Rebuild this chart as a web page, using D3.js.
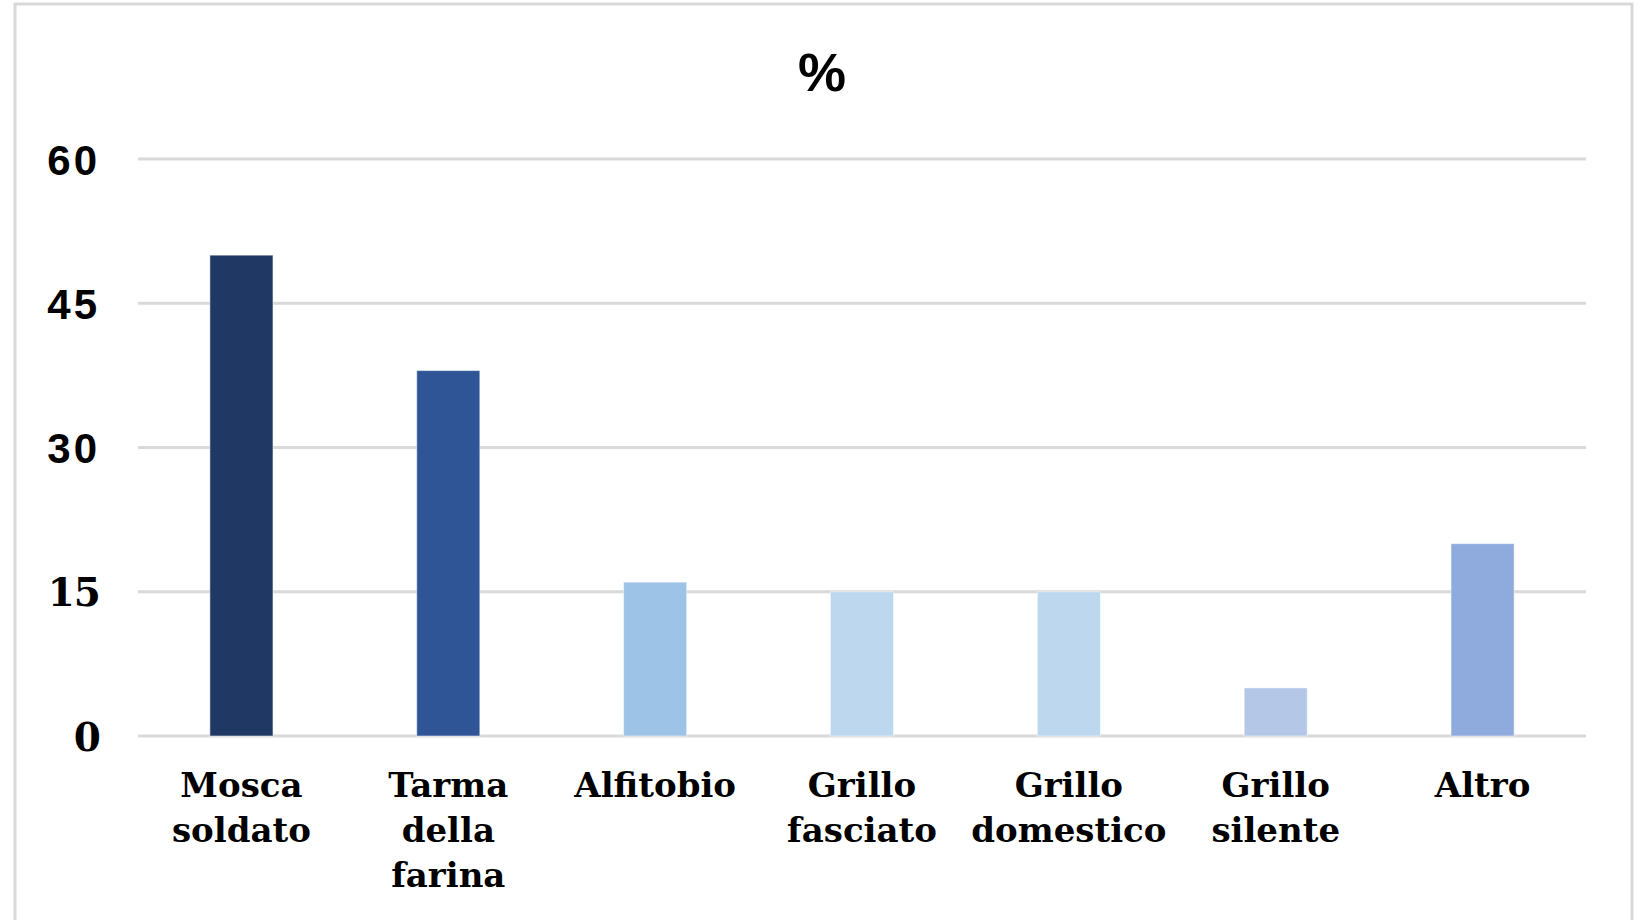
<!DOCTYPE html>
<html>
<head>
<meta charset="utf-8">
<script src="https://cdn.jsdelivr.net/npm/d3@7"></script>
<style>
  html, body { margin: 0; padding: 0; background: #fff; }
</style>
</head>
<body>
<div id="chart"></div>
<script>
// data of the chart
const categories = [
  ["Mosca", "soldato"],
  ["Tarma", "della", "farina"],
  ["Alfitobio"],
  ["Grillo", "fasciato"],
  ["Grillo", "domestico"],
  ["Grillo", "silente"],
  ["Altro"],
];
const values = [50, 38, 16, 15, 15, 5, 20];
const barColors = ["#203864", "#2f5597", "#9dc3e6", "#bdd7ee", "#bdd7ee", "#b4c7e7", "#8faadc"];
const yTicks = [0, 15, 30, 45, 60];
const title = "%";

// settings of the svg appearance
const settings = {
  width: 1645,
  height: 920,
  parentId: "chart",
  plot: { left: 138, right: 1586, top: 159, bottom: 736 }, // area of the bars
  barPadding: 0.695,
  gridColor: "#d9d9d9",
  frameColor: "#d9d9d9",
  serif: "'DejaVu Serif', serif",
  sans: "'Liberation Sans', Arial, sans-serif",
  labelSize: 34,
  lineHeight: 45,
  tickSize: 42,
};

function drawChart(settings) {
  const svg = d3
    .select(`#${settings.parentId}`)
    .append("svg")
    .attr("width", settings.width)
    .attr("height", settings.height);

  // outer frame of the chart (bottom edge is cut off in the original)
  svg
    .append("rect")
    .attr("x", 15)
    .attr("y", 4)
    .attr("width", 1617)
    .attr("height", 960)
    .attr("fill", "#fff")
    .attr("stroke", settings.frameColor)
    .attr("stroke-width", 3);

  const x = d3
    .scaleBand()
    .domain(d3.range(categories.length))
    .range([settings.plot.left, settings.plot.right])
    .paddingInner(settings.barPadding)
    .paddingOuter(settings.barPadding / 2);

  const y = d3
    .scaleLinear()
    .domain([0, 60])
    .range([settings.plot.bottom, settings.plot.top]);

  // gridlines
  svg
    .append("g")
    .selectAll("line")
    .data(yTicks)
    .enter()
    .append("line")
    .attr("x1", settings.plot.left)
    .attr("x2", settings.plot.right)
    .attr("y1", (d) => y(d))
    .attr("y2", (d) => y(d))
    .attr("stroke", settings.gridColor)
    .attr("stroke-width", 3);

  // y axis labels - the original mixes a sans and a serif face
  const yAxis = svg
    .append("g")
    .attr("transform", `translate(${settings.plot.left - 38},0)`)
    .call(d3.axisLeft(y).tickValues(yTicks).tickSize(0).tickPadding(0));
  yAxis.select(".domain").remove();
  yAxis
    .selectAll("text")
    .attr("fill", "#000")
    .attr("dy", "0.36em")
    .style("font-weight", "bold")
    .style("font-size", (d) => (d >= 30 ? settings.tickSize : settings.tickSize - 3) + "px")
    .style("letter-spacing", (d) => (d >= 30 ? "3px" : "-1px"))
    .style("font-family", (d) => (d >= 30 ? settings.sans : settings.serif));

  // bars
  svg
    .append("g")
    .selectAll("rect")
    .data(values)
    .enter()
    .append("rect")
    .attr("x", (d, i) => x(i))
    .attr("width", x.bandwidth())
    .attr("y", (d) => y(d))
    .attr("height", (d) => y(0) - y(d))
    .attr("fill", (d, i) => barColors[i])
    .attr("stroke", "rgba(255,255,255,0.5)")
    .attr("stroke-width", 1);

  // category labels (multi line)
  const labels = svg
    .append("g")
    .selectAll("text")
    .data(categories)
    .enter()
    .append("text")
    .attr("text-anchor", "middle")
    .attr("y", 797)
    .style("font-family", settings.serif)
    .style("font-weight", "bold")
    .style("font-size", settings.labelSize + "px")
    .attr("fill", "#000");
  labels
    .selectAll("tspan")
    .data((d, i) => d.map((t) => ({ t, i })))
    .enter()
    .append("tspan")
    .attr("x", (d) => x(d.i) + x.bandwidth() / 2)
    .attr("dy", (d, j) => (j === 0 ? 0 : settings.lineHeight))
    .text((d) => d.t);

  // title
  svg
    .append("text")
    .attr("x", 822)
    .attr("y", 91)
    .attr("text-anchor", "middle")
    .style("font-family", settings.sans)
    .style("font-weight", "bold")
    .style("font-size", "54px")
    .text(title);
}

drawChart(settings);
</script>
</body>
</html>
